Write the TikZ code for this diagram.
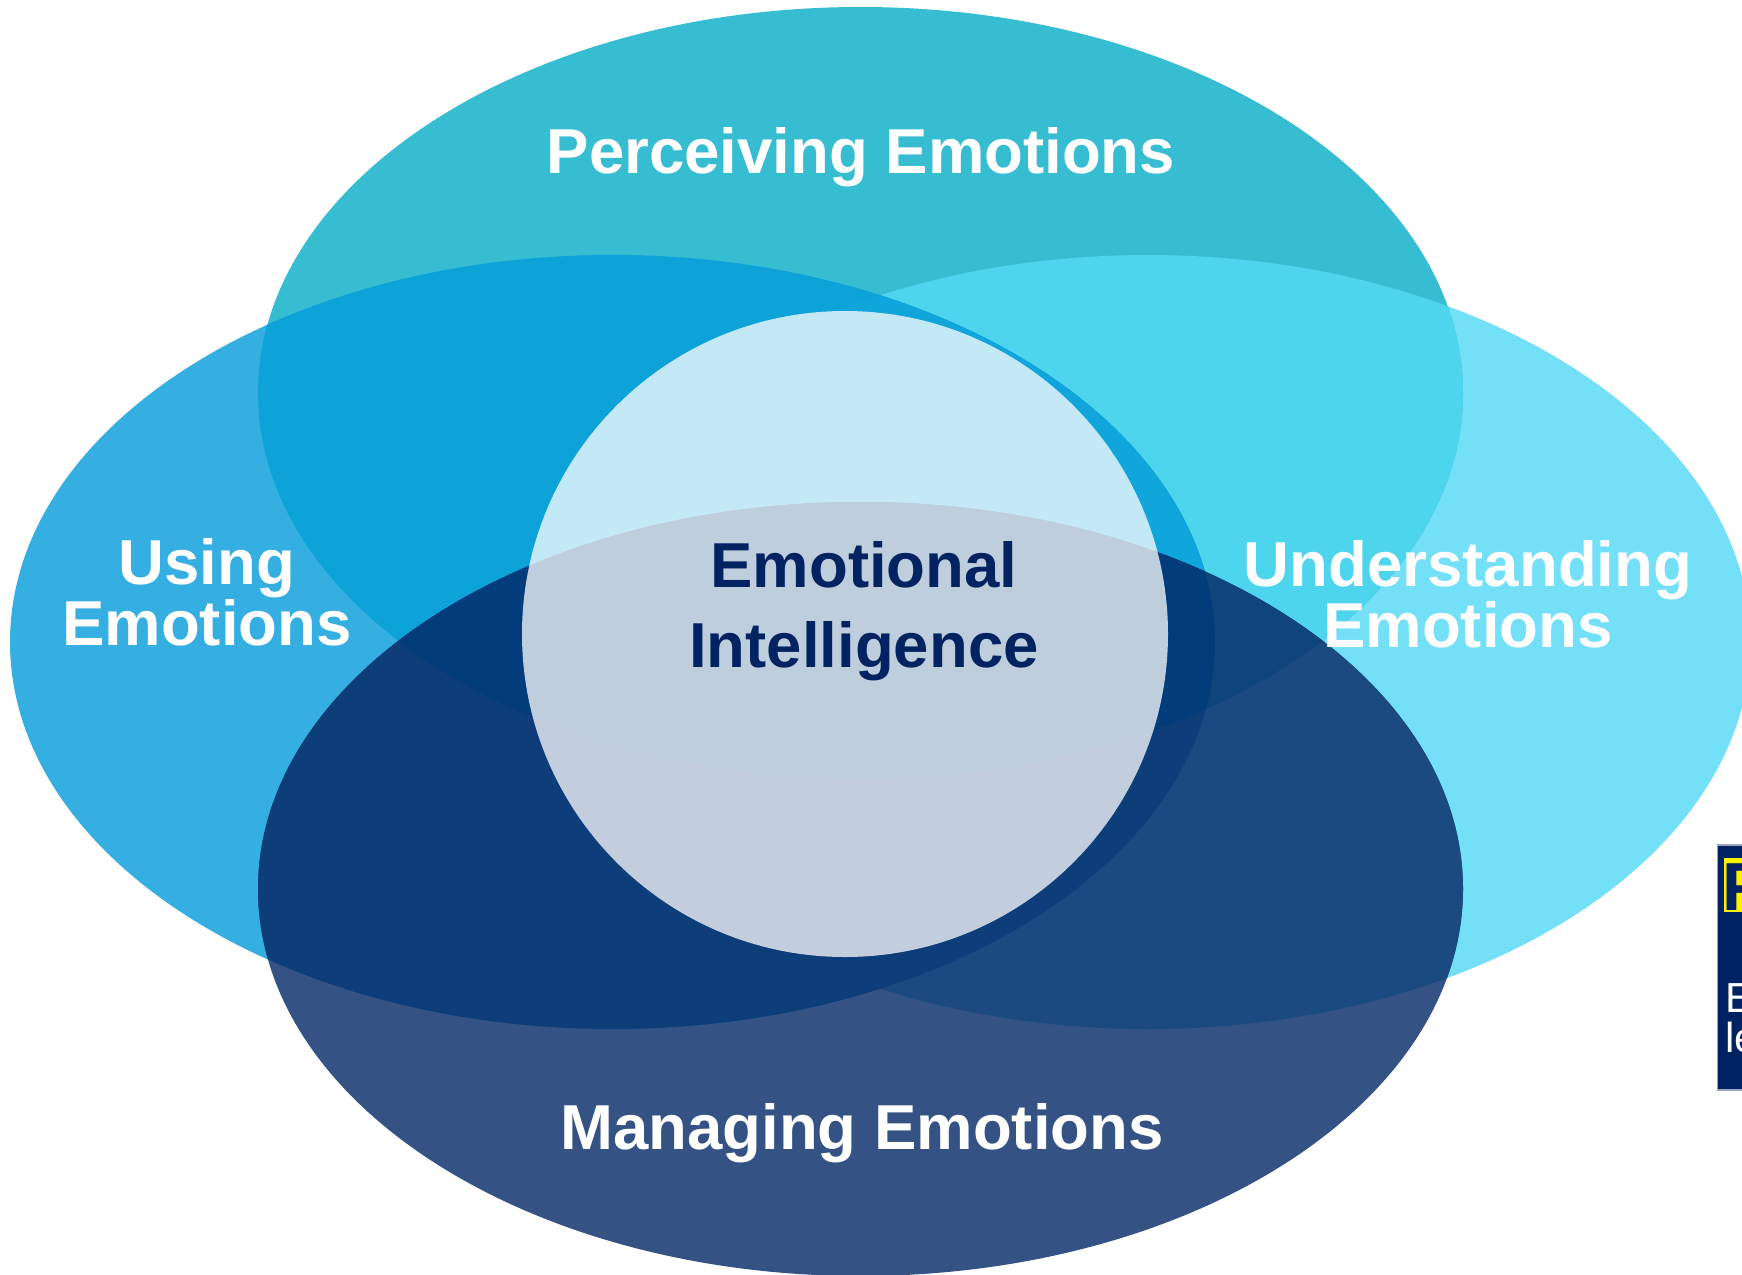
\documentclass[tikz,border=0pt]{standalone}
\usepackage{fontspec}
\setmainfont{Liberation Sans}

\definecolor{perceive}{HTML}{37BDD2}
\definecolor{understand}{HTML}{74E0F7}
\definecolor{usecol}{HTML}{35AEE1}
\definecolor{manage}{HTML}{345283}
\definecolor{perunder}{HTML}{4DD5EE}
\definecolor{peruse}{HTML}{0DA2D8}
\definecolor{peruseunder}{HTML}{10A6DC}
\definecolor{manunder}{HTML}{1B4A80}
\definecolor{manuse}{HTML}{0D3E7A}
\definecolor{permanunder}{HTML}{10457B}
\definecolor{permanuse}{HTML}{023C7B}
\definecolor{eitext}{HTML}{022361}
\definecolor{boxnavy}{HTML}{012262}
\definecolor{boxedge}{HTML}{9AA6BE}

\tikzset{
  emolabel/.style={align=center,text=white,inner sep=0pt,anchor=base,
    font=\fontsize{63.5pt}{55pt}\selectfont\bfseries},
  corelabel/.style={align=center,text=eitext,inner sep=0pt,anchor=base,
    font=\fontsize{63.5pt}{80pt}\selectfont\bfseries}
}

% the four ellipses
\def\ellT{(860.5,393) ellipse [x radius=602.5pt,y radius=386pt]}
\def\ellL{(612.5,642) ellipse [x radius=602.5pt,y radius=387pt]}
\def\ellR{(1148,642) ellipse [x radius=602.5pt,y radius=387pt]}
\def\ellB{(860.5,889) ellipse [x radius=602.5pt,y radius=387pt]}

\begin{document}
\begin{tikzpicture}[x=1pt,y=-1pt]
\useasboundingbox (0,0) rectangle (1742,1274);
\clip (0,0) rectangle (1742,1274);
\fill[white] (0,0) rectangle (1742,1274);

\fill[understand] \ellR;
\fill[perceive] \ellT;
\fill[usecol] \ellL;
\fill[manage] \ellB;

% overlaps with the top one
\begin{scope}
\clip \ellT;
\fill[perunder] \ellR;
\fill[peruse] \ellL;
\clip \ellL;
\fill[peruseunder] \ellR;
\end{scope}

% overlaps with the bottom one
\begin{scope}
\clip \ellB;
\fill[manunder] \ellR;
\fill[manuse] \ellL;
\clip \ellT;
\fill[permanunder] \ellR;
\fill[permanuse] \ellL;
\end{scope}

\fill[white,fill opacity=0.75] (845,634) circle [radius=323pt];

\node[emolabel] (perceiving) at (861,173) {Perceiving Emotions};
\node[emolabel] (using) at (207,645) {Using\\Emotions};
\node[emolabel] (understanding) at (1468,647) {Understanding\\Emotions};
\node[corelabel] (ei) at (864,667) {Emotional\\Intelligence};
\node[emolabel] (managing) at (862,1149) {Managing Emotions};

% box cut off at the right edge
\draw[draw=boxedge,fill=boxnavy,line width=1.5pt] (1717.5,845) rectangle (1770,1090);
\fill[yellow] (1724,858) rectangle (1770,912);
\node[anchor=base west,inner sep=0pt,text=boxnavy,font=\fontsize{68pt}{68pt}\selectfont\bfseries] (flabel) at (1722,910) {F};
\node[anchor=base west,inner sep=0pt,text=white,align=left,font=\fontsize{42pt}{40pt}\selectfont] (elabel) at (1725,1052) {E\\le};
\end{tikzpicture}
\end{document}
